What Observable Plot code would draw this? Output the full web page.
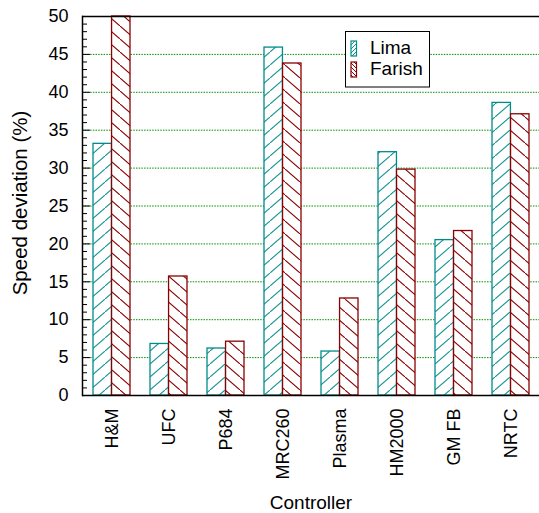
<!DOCTYPE html>
<html>
<head>
<meta charset="utf-8">
<script src="https://cdn.jsdelivr.net/npm/d3@7"></script>
<script src="https://cdn.jsdelivr.net/npm/@observablehq/plot@0.6"></script>
<style>
  html, body { margin: 0; padding: 0; background: #fff; }
  #chart svg { display: block; }
</style>
</head>
<body>
<div id="chart"></div>
<script>
const controllers = ["H&M", "UFC", "P684", "MRC260", "Plasma", "HM2000", "GM FB", "NRTC"];
const series = ["Lima", "Farish"];
const limaValues = [33.2, 6.8, 6.2, 45.9, 5.8, 32.1, 20.5, 38.6];
const farishValues = [50, 15.7, 7.1, 43.8, 12.8, 29.8, 21.7, 37.1];
const majorTicks = [0, 5, 10, 15, 20, 25, 30, 35, 40, 45, 50];
const gridTicks = [5, 10, 15, 20, 25, 30, 35, 40, 45];
const minorTicks = d3.range(0, 51).filter(v => v % 5 !== 0);
const yLabel = "Speed deviation (%)";
const xLabel = "Controller";

const colors = {Lima: "#008b8b", Farish: "#8b0000"};
const rows = controllers.flatMap((c, i) => [
  {controller: c, series: "Lima", value: limaValues[i]},
  {controller: c, series: "Farish", value: farishValues[i]}
]);

const font = "'Liberation Sans', Arial, sans-serif";

const plot = Plot.plot({
  width: 539,
  height: 513,
  marginLeft: 82,
  marginRight: 0,
  marginTop: 16,
  marginBottom: 118,
  style: {fontFamily: font, fontSize: "18px", background: "#fff", color: "#000"},
  x: {type: "band", domain: controllers, padding: 0},
  y: {domain: [0, 50]},
  marks: [
    Plot.ruleY(gridTicks, {stroke: "#009000", strokeWidth: 1, strokeDasharray: "1.5,1.2"}),
    Plot.barY(rows.filter(d => d.series === "Lima"), {
      x: "controller", y: "value", fill: "url(#hatch-lima)", stroke: colors.Lima,
      strokeWidth: 1.3, insetLeft: 10, insetRight: 28.56
    }),
    Plot.barY(rows.filter(d => d.series === "Farish"), {
      x: "controller", y: "value", fill: "url(#hatch-farish)", stroke: colors.Farish,
      strokeWidth: 1.3, insetLeft: 28.56, insetRight: 10
    }),
    Plot.tickY(majorTicks, {y: d => d, stroke: "#000", strokeWidth: 1, insetRight: 457 - 8}),
    Plot.tickY(minorTicks, {y: d => d, stroke: "#000", strokeWidth: 1, insetRight: 457 - 5}),
    Plot.ruleY([0], {stroke: "#000", strokeWidth: 1.5}),
    Plot.ruleY([50], {stroke: "#000", strokeWidth: 1.5}),
    Plot.frame({anchor: "left", stroke: "#000", strokeWidth: 1.5}),
    Plot.axisY({ticks: majorTicks, tickSize: 0, tickPadding: 14, fontSize: 18, label: null}),
    Plot.axisX({tickRotate: -90, tickSize: 0, tickPadding: 13, fontSize: 18, label: null}),
    Plot.text([yLabel], {text: d => d, frameAnchor: "left", textAnchor: "middle", rotate: -90, dx: -62, dy: -3, fontSize: 20.5, lineAnchor: "middle"}),
    Plot.text([xLabel], {text: d => d, frameAnchor: "bottom", textAnchor: "middle", dy: 107, fontSize: 19, lineAnchor: "middle"})
  ]
});

const svg = d3.select(plot);
const defs = svg.insert("defs", ":first-child");
function hatch(id, color, dir, w, h, sw) {
  const p = defs.append("pattern")
    .attr("id", id)
    .attr("patternUnits", "userSpaceOnUse")
    .attr("width", w).attr("height", h);
  p.append("rect").attr("width", w).attr("height", h).attr("fill", "#fff");
  p.append("line")
    .attr("x1", 0).attr("y1", dir > 0 ? h : 0)
    .attr("x2", w).attr("y2", dir > 0 ? 0 : h)
    .attr("stroke", color).attr("stroke-width", sw);
}
hatch("hatch-lima", "#139393", 1, 15, 13, 1.1);
hatch("hatch-farish", "#8b0000", -1, 15, 13, 1.1);
hatch("hatch-lima-sm", "#139393", 1, 4, 4, 1);
hatch("hatch-farish-sm", "#8b0000", -1, 4, 4, 1);

// legend
const lg = svg.append("g").attr("font-family", font).attr("font-size", 19).attr("text-anchor", "start");
lg.append("rect").attr("x", 345.5).attr("y", 31.5).attr("width", 84).attr("height", 55.5)
  .attr("fill", "#fff").attr("stroke", "#000").attr("stroke-width", 1);
series.forEach((s, i) => {
  const y0 = 41 + i * 21;
  lg.append("rect").attr("x", 351).attr("y", y0).attr("width", 5.5).attr("height", 15)
    .attr("fill", s === "Lima" ? "url(#hatch-lima-sm)" : "url(#hatch-farish-sm)")
    .attr("stroke", colors[s]).attr("stroke-width", 1.2);
  lg.append("text").attr("x", 370).attr("y", 53.5 + i * 21).attr("fill", "#000")
    .attr("text-anchor", "start").text(s);
});

document.getElementById("chart").append(plot);
</script>
</body>
</html>
